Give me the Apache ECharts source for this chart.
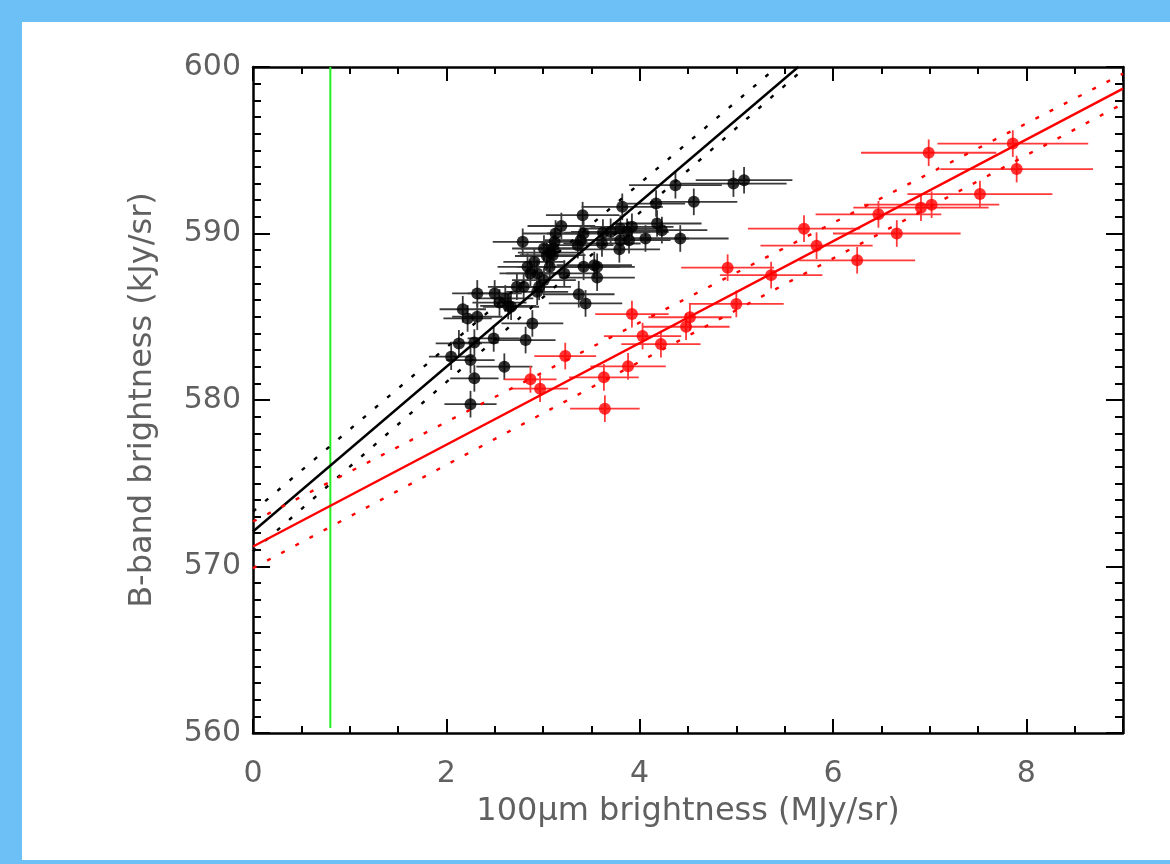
<!DOCTYPE html>
<html>
<head>
<meta charset="utf-8">
<script src="https://cdn.jsdelivr.net/npm/echarts@6/dist/echarts.min.js"></script>
<style>
  html, body { margin: 0; padding: 0; background: #6dc0f6; }
  #chart {
    position: absolute;
    left: 22px;
    top: 22px;
    width: 1148px;
    height: 838px;
    background: #fff;
  }
</style>
</head>
<body>
<div id="chart"></div>
<script>
// black points (first sample)
const blackX = [4.37, 4.97, 5.08, 3.82, 4.17, 4.56, 3.41, 4.18, 4.23, 4.42,
  3.19, 3.13, 2.79, 3.42, 3.62, 3.70, 3.80, 3.87, 3.92, 3.80,
  3.89, 4.06, 3.79, 3.61, 3.39, 3.36, 3.12, 3.11, 3.10, 3.01,
  3.04, 3.08, 2.91, 2.84, 2.87, 3.07, 3.22, 3.42, 3.53, 3.56,
  3.56, 3.37, 3.44, 2.94, 3.01, 2.94, 2.80, 2.73, 2.50, 2.32,
  2.61, 2.55, 2.64, 2.17, 2.22, 2.32, 2.89, 2.49, 2.82, 2.13,
  2.29, 2.05, 2.25, 2.60, 2.29, 2.25, 2.67, 2.96]
const blackY = [592.9, 593.0, 593.2, 591.6, 591.8, 591.9, 591.1, 590.6, 590.2, 589.7,
  590.45, 590.0, 589.5, 590.0, 590.05, 590.1, 590.3, 590.1, 590.4, 589.6,
  589.6, 589.7, 589.05, 589.4, 589.6, 589.3, 589.5, 589.1, 588.7, 589.1,
  588.65, 588.85, 588.3, 588.0, 587.6, 588.0, 587.6, 588.0, 588.1, 588.0,
  587.35, 586.35, 585.8, 587.6, 587.2, 586.5, 586.8, 586.8, 586.4, 586.4,
  586.1, 585.85, 585.65, 585.45, 584.9, 585.0, 584.6, 583.7, 583.6, 583.4,
  583.45, 582.6, 582.4, 582.0, 581.3, 579.75, 585.6, 586.8]
const blackXErr = [0.48, 0.55, 0.5, 0.42, 0.3, 0.45, 0.38, 0.46, 0.47, 0.5,
  0.35, 0.34, 0.31, 0.38, 0.4, 0.41, 0.42, 0.43, 0.43, 0.42,
  0.43, 0.45, 0.42, 0.4, 0.37, 0.37, 0.34, 0.34, 0.34, 0.33,
  0.33, 0.34, 0.32, 0.31, 0.32, 0.34, 0.35, 0.38, 0.39, 0.39,
  0.39, 0.37, 0.38, 0.32, 0.33, 0.32, 0.31, 0.3, 0.28, 0.26,
  0.29, 0.28, 0.29, 0.24, 0.25, 0.26, 0.32, 0.27, 0.31, 0.24,
  0.25, 0.23, 0.25, 0.29, 0.25, 0.27, 0.29, 0.33]

// red points (second sample)
const redX = [7.86, 6.99, 7.90, 7.52, 6.91, 7.02, 6.47, 6.66, 5.70, 5.83,
  6.25, 4.91, 5.36, 5.00, 4.52, 4.48, 3.92, 4.03, 4.22, 3.23,
  3.88, 3.63, 2.87, 2.97, 3.64]
const redY = [595.4, 594.85, 593.87, 592.37, 591.55, 591.73, 591.15, 590.0, 590.29, 589.27,
  588.39, 587.95, 587.5, 585.77, 584.97, 584.4, 585.16, 583.84, 583.36, 582.64,
  582.02, 581.36, 581.24, 580.68, 579.48]
const redXErr = [0.78, 0.7, 0.79, 0.75, 0.7, 0.7, 0.65, 0.66, 0.58, 0.58,
  0.6, 0.48, 0.53, 0.49, 0.43, 0.45, 0.38, 0.4, 0.41, 0.32,
  0.39, 0.36, 0.27, 0.29, 0.36]

// vertical error, same for every point
const yErr = 0.8

// fitted lines (end points) and their bounds
const blackFit = [[0, 572.1], [5.64, 600]]
const blackFitHi = [[0, 573.3], [5.42, 600]]
const blackFitLo = [[0, 570.9], [5.72, 600]]
const redFit = [[0, 571.2], [9, 598.7]]
const redFitHi = [[0, 572.7], [9, 599.6]]
const redFitLo = [[0, 569.9], [9, 597.8]]

// green marker line
const greenLine = [[0.8, 560.3], [0.8, 600]]

const xTicks = [0, 9, 2]
const yTicks = [560, 600, 10]

const myChart = echarts.init(document.getElementById('chart'))

const toErr = (xs, ys, errs) => xs.map((v, i) => [v, ys[i], errs[i], yErr])

// draws the cross of error bars
const errRender = color => (params, api) => {
  const x = api.value(0)
  const y = api.value(1)
  const ex = api.value(2)
  const ey = api.value(3)
  const l = api.coord([x - ex, y])
  const r = api.coord([x + ex, y])
  const b = api.coord([x, y - ey])
  const t = api.coord([x, y + ey])
  const style = { stroke: color, lineWidth: 1.8 }
  return {
    type: 'group',
    children: [
      { type: 'line', shape: { x1: l[0], y1: l[1], x2: r[0], y2: r[1] }, style },
      { type: 'line', shape: { x1: b[0], y1: b[1], x2: t[0], y2: t[1] }, style }
    ]
  }
}

const fontFamily = '"DejaVu Sans", sans-serif'
const textColor = '#606060'
const lineStyle = { color: '#000', width: 2.5 }

const xAxisBase = {
  type: 'value',
  min: xTicks[0],
  max: xTicks[1],
  interval: xTicks[2],
  splitLine: { show: false },
  axisLine: { onZero: false, lineStyle },
  axisTick: { inside: true, length: 14, lineStyle: { color: '#000', width: 2 } },
  minorTick: { show: true, splitNumber: 4, length: 7, lineStyle: { color: '#000', width: 2 } }
}
const yAxisBase = {
  type: 'value',
  min: yTicks[0],
  max: yTicks[1],
  interval: yTicks[2],
  splitLine: { show: false },
  axisLine: { onZero: false, lineStyle },
  axisTick: { inside: true, length: 17, lineStyle: { color: '#000', width: 2 } },
  minorTick: { show: true, splitNumber: 10, length: 8, lineStyle: { color: '#000', width: 2 } }
}

const fitLine = (name, data, color, dotted) => ({
  name,
  type: 'line',
  data,
  symbol: 'none',
  clip: true,
  z: 5,
  lineStyle: { color, width: 2.4, type: dotted ? [4, 12] : 'solid' }
})

const option = {
  animation: false,
  grid: { left: 231, top: 45, width: 870, height: 666 },
  xAxis: [
    {
      ...xAxisBase,
      position: 'bottom',
      name: '100μm brightness (MJy/sr)',
      nameLocation: 'middle',
      nameGap: 63,
      nameTextStyle: { fontSize: 32, color: textColor, fontFamily },
      axisLabel: { margin: 26, fontSize: 30, color: textColor, fontFamily, showMaxLabel: false }
    },
    { ...xAxisBase, position: 'top', axisLabel: { show: false } }
  ],
  yAxis: [
    {
      ...yAxisBase,
      position: 'left',
      name: 'B-band brightness (kJy/sr)',
      nameLocation: 'middle',
      nameGap: 94,
      nameTextStyle: { fontSize: 32, color: textColor, fontFamily },
      axisLabel: { margin: 12, fontSize: 30, color: textColor, fontFamily }
    },
    { ...yAxisBase, position: 'right', axisLabel: { show: false } }
  ],
  series: [
    {
      type: 'custom',
      renderItem: errRender('#3a3a3a'),
      data: toErr(blackX, blackY, blackXErr),
      encode: { x: 0, y: 1 },
      z: 2
    },
    {
      type: 'custom',
      renderItem: errRender('#ff3a3a'),
      data: toErr(redX, redY, redXErr),
      encode: { x: 0, y: 1 },
      z: 2
    },
    {
      type: 'scatter',
      data: blackX.map((v, i) => [v, blackY[i]]),
      symbolSize: 12,
      itemStyle: { color: '#000' },
      z: 3
    },
    {
      type: 'scatter',
      data: redX.map((v, i) => [v, redY[i]]),
      symbolSize: 12,
      itemStyle: { color: '#ff0000' },
      z: 3
    },
    fitLine('black fit', blackFit, '#000', false),
    fitLine('black hi', blackFitHi, '#000', true),
    fitLine('black lo', blackFitLo, '#000', true),
    fitLine('red fit', redFit, '#ff0000', false),
    fitLine('red hi', redFitHi, '#ff0000', true),
    fitLine('red lo', redFitLo, '#ff0000', true),
    {
      type: 'line',
      data: greenLine,
      symbol: 'none',
      z: 4,
      lineStyle: { color: '#22ee22', width: 2 }
    }
  ]
}

myChart.setOption(option)
</script>
</body>
</html>
